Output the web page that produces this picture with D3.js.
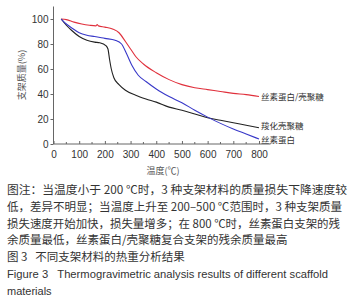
<!DOCTYPE html>
<html>
<head>
<meta charset="utf-8">
<script src="https://cdn.jsdelivr.net/npm/d3@7"></script>
<style>
  body { margin: 0; background: #fff; }
  text { font-family: "Noto Sans CJK SC", "Liberation Sans", sans-serif; }
</style>
</head>
<body>
<svg width="348" height="300"></svg>
<script>
// temperature (C), mass remaining (%)
const silkChitosan = [[30,100],[50,99.5],[80,97.5],[110,96],[140,95],[165,94.5],[170,95.5],[175,94.5],[200,93.5],[230,92],[255,89],[280,82],[300,76],[320,70],[350,64],[400,57],[450,51.5],[500,47.5],[550,45],[600,43.5],[650,42],[700,40.5],[750,39.5],[800,38]]
const carboxyChitosan = [[30,100],[50,95],[70,91],[100,86],[130,83],[160,81.5],[180,81],[205,78.5],[212,76],[218,68],[225,60],[235,53],[255,47.5],[280,43],[320,39],[360,36],[400,33.5],[450,29.5],[500,27],[550,24],[600,21],[650,19],[700,17],[750,15],[800,13]]
const silk = [[30,100],[50,96],[70,93],[100,89],[130,87],[160,86],[200,84.5],[240,83],[265,80],[285,72],[305,63],[330,55],[360,50],[400,44],[450,38],[500,33],[550,27],[600,21.5],[650,16.5],[700,12],[750,8],[800,4]]

const seriesNames = ["丝素蛋白/壳聚糖", "羧化壳聚糖", "丝素蛋白"]
const xTicks = [0, 100, 200, 300, 400, 500, 600, 700, 800]
const yTicks = [0, 20, 40, 60, 80, 100]

const captionLines = [
    "图注：当温度小于 200 ℃时，3 种支架材料的质量损失下降速度较",
    "低，差异不明显；当温度上升至 200–500 ℃范围时，3 种支架质量",
    "损失速度开始加快，损失量增多；在 800 ℃时，丝素蛋白支架的残",
    "余质量最低，丝素蛋白/壳聚糖复合支架的残余质量最高",
    "图 3   不同支架材料的热重分析结果",
    "Figure 3   Thermogravimetric analysis results of different scaffold",
    "materials"
]

const xScale = d3.scaleLinear().domain([0, 800]).range([53.5, 259])
const yScale = d3.scaleLinear().domain([0, 100]).range([144, 19])

function addAxes(){
    const svg = d3.select("svg")
    const xAxis = d3.axisBottom(xScale).tickValues(xTicks).tickSize(-3).tickPadding(7)
    const yAxis = d3.axisLeft(yScale).tickValues(yTicks).tickSize(3).tickPadding(2)

    const xg = svg.append("g").attr("id", "xAxisG")
        .attr("transform", "translate(0," + yScale(0) + ")")
        .call(xAxis)
    xg.select("path.domain").remove()
    xg.append("line")
        .attr("x1", xScale(0)).attr("x2", xScale(845))
        .attr("stroke", "#666")
    xg.selectAll("line.minor")
        .data(d3.range(50, 850, 100))
        .enter()
        .append("line")
        .attr("class", "minor")
        .attr("x1", d => xScale(d)).attr("x2", d => xScale(d))
        .attr("y1", 0).attr("y2", -2)
        .attr("stroke", "#666")

    const yg = svg.append("g").attr("id", "yAxisG")
        .attr("transform", "translate(" + xScale(0) + ",0)")
        .call(yAxis)
    yg.select("path.domain").remove()
    yg.append("line")
        .attr("y1", yScale(0)).attr("y2", yScale(110))
        .attr("stroke", "#666")

    svg.selectAll("#xAxisG g.tick line, #yAxisG g.tick line").attr("stroke", "#666")
    svg.selectAll("#xAxisG text, #yAxisG text")
        .attr("fill", "#333")
        .style("font-family", "Liberation Sans, sans-serif")
        .style("font-size", "10px")

    svg.append("text")
        .attr("x", 163).attr("y", 174)
        .attr("text-anchor", "middle")
        .attr("fill", "#555")
        .style("font-size", "9px")
        .text("温度(℃)")

    svg.append("text")
        .attr("transform", "translate(25,75) rotate(-90)")
        .attr("text-anchor", "middle")
        .attr("fill", "#555")
        .style("font-size", "9px")
        .text("支架质量(%)")
}

function addLines(){
    const line = d3.line()
        .x(d => xScale(d[0]))
        .y(d => yScale(d[1]))
        .curve(d3.curveMonotoneX)

    const data = [
        {values: silkChitosan, color: "#e0303c", name: seriesNames[0], dy: 3},
        {values: carboxyChitosan, color: "#222222", name: seriesNames[1], dy: 1.5},
        {values: silk, color: "#3838c8", name: seriesNames[2], dy: 4}
    ]

    d3.select("svg")
        .append("g")
        .selectAll("path")
        .data(data)
        .enter()
        .append("path")
        .attr("d", d => line(d.values))
        .attr("fill", "none")
        .attr("stroke", d => d.color)
        .attr("stroke-width", 1.1)

    d3.select("svg")
        .append("g")
        .selectAll("text")
        .data(data)
        .enter()
        .append("text")
        .attr("x", d => xScale(d.values[d.values.length - 1][0]) + 2)
        .attr("y", d => yScale(d.values[d.values.length - 1][1]) + d.dy)
        .attr("fill", "#333")
        .style("font-size", "8.5px")
        .text(d => d.name)
}

function addCaption(){
    const widths = [340, 335, 333, null, null, 321, null]
    d3.select("svg")
        .append("g")
        .selectAll("text")
        .data(captionLines)
        .enter()
        .append("text")
        .attr("x", 7)
        .attr("y", (d, i) => 194 + i * 16.8)
        .attr("fill", "#333")
        .style("white-space", "pre")
        .style("font-size", (d, i) => i >= 5 ? "11px" : "11.5px")
        .style("font-family", (d, i) => i >= 5 ? "Liberation Sans, sans-serif" : null)
        .each(function(d, i){
            if (widths[i]) d3.select(this).attr("textLength", widths[i]).attr("lengthAdjust", "spacingAndGlyphs")
        })
        .text(d => d)
}

addAxes()
addLines()
addCaption()
</script>
</body>
</html>
